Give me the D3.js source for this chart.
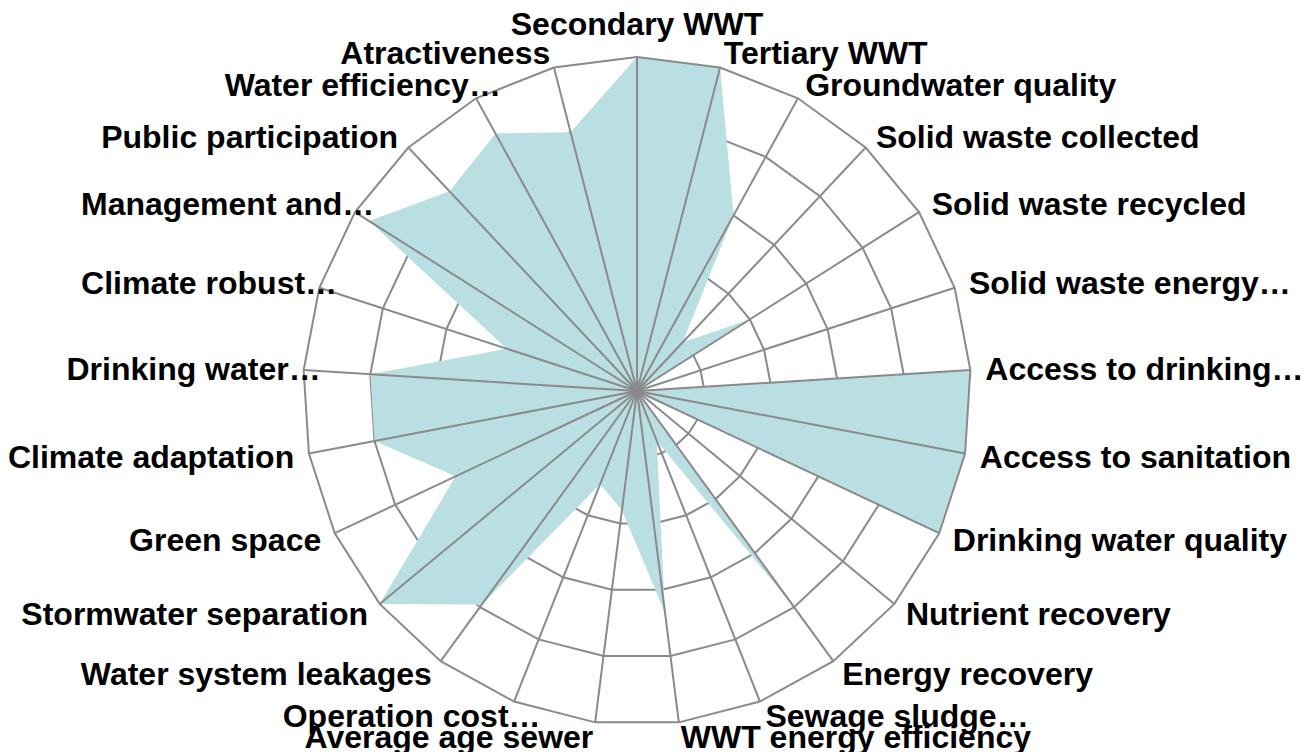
<!DOCTYPE html>
<html lang="en">
<head>
  <meta charset="UTF-8">
  <title>Radar chart</title>
  <script src="https://cdn.jsdelivr.net/npm/d3@7"></script>
  <style>
    body { margin: 0; overflow: hidden; background: #fff; }
  </style>
</head>
<body>

  <div id="container"></div>

  <script>
    // Indicators, clockwise from the top
    const categories = [
      "Secondary WWT", "Tertiary WWT", "Groundwater quality", "Solid waste collected",
      "Solid waste recycled", "Solid waste energy…", "Access to drinking…", "Access to sanitation",
      "Drinking water quality", "Nutrient recovery", "Energy recovery", "Sewage sludge…",
      "WWT energy efficiency", "Average age sewer", "Operation cost…", "Water system leakages",
      "Stormwater separation", "Green space", "Climate adaptation", "Drinking water…",
      "Climate robust…", "Management and…", "Public participation", "Water efficiency…",
      "Atractiveness"
    ];

    // Scores (0 - 1)
    const values = [
      1.0, 1.0, 0.6, 0.2,
      0.4, 0.0, 1.0, 1.0,
      1.0, 0.0, 0.8, 0.16,
      0.67, 0.36, 0.30, 0.79,
      1.0, 0.6, 0.8, 0.8,
      0.41, 0.95, 0.82, 0.88,
      0.80
    ];

    // Grid rings
    const levels = [0.2, 0.4, 0.6, 0.8, 1.0];

    const width = 1304;
    const height = 752;
    const cx = 637;
    const cy = 391;
    const radius = 334;
    const labelGap = 15;

    const n = categories.length;
    const angle = i => i * 2 * Math.PI / n;

    const r = d3.scaleLinear()
      .domain([0, 1])
      .range([0, radius]);

    const svg = d3.select("#container")
      .append("svg")
      .attr("width", width)
      .attr("height", height)
      .attr("viewBox", [0, 0, width, height]);

    const g = svg.append("g")
      .attr("transform", `translate(${cx},${cy})`);

    const ring = d3.lineRadial()
      .angle((d, i) => angle(i))
      .radius(d => r(d))
      .curve(d3.curveLinearClosed);

    // inner rings (under the area)
    g.append("g")
      .attr("fill", "none")
      .attr("stroke", "#8a8a8a")
      .attr("stroke-width", 2)
      .selectAll("path")
      .data(levels.slice(0, -1))
      .join("path")
      .attr("d", lv => ring(categories.map(() => lv)));

    // data area
    g.append("path")
      .attr("d", ring(values))
      .attr("fill", "#badfe3");

    // spokes
    g.append("g")
      .attr("stroke", "#8a8a8a")
      .attr("stroke-width", 2)
      .selectAll("line")
      .data(categories)
      .join("line")
      .attr("x1", 0)
      .attr("y1", 0)
      .attr("x2", (d, i) => d3.pointRadial(angle(i), r(1))[0])
      .attr("y2", (d, i) => d3.pointRadial(angle(i), r(1))[1]);

    // outer ring
    g.append("path")
      .attr("d", ring(categories.map(() => levels[levels.length - 1])))
      .attr("fill", "none")
      .attr("stroke", "#8a8a8a")
      .attr("stroke-width", 2);

    // labels (left-side truncated labels spill past the anchor by the ellipsis)
    const side = i => {
      const s = Math.sin(angle(i));
      return s > 0.01 ? 1 : s < -0.01 ? -1 : 0;
    };

    g.append("g")
      .attr("font-family", "'Liberation Sans', Arial, sans-serif")
      .attr("font-weight", "bold")
      .attr("font-size", 32)
      .attr("fill", "#000")
      .selectAll("text")
      .data(categories)
      .join("text")
      .attr("x", (d, i) => d3.pointRadial(angle(i), r(1) + labelGap)[0])
      .attr("y", (d, i) => d3.pointRadial(angle(i), r(1) + labelGap)[1])
      .attr("text-anchor", (d, i) => side(i) > 0 ? "start" : side(i) < 0 ? "end" : "middle")
      .attr("dx", (d, i) => side(i) < 0 && d.endsWith("…") ? "1em" : 0)
      .attr("dy", (d, i) => side(i) === 0 && Math.cos(angle(i)) > 0 ? "-0.22em" : "0.35em")
      .text(d => d);
  </script>

</body>
</html>
